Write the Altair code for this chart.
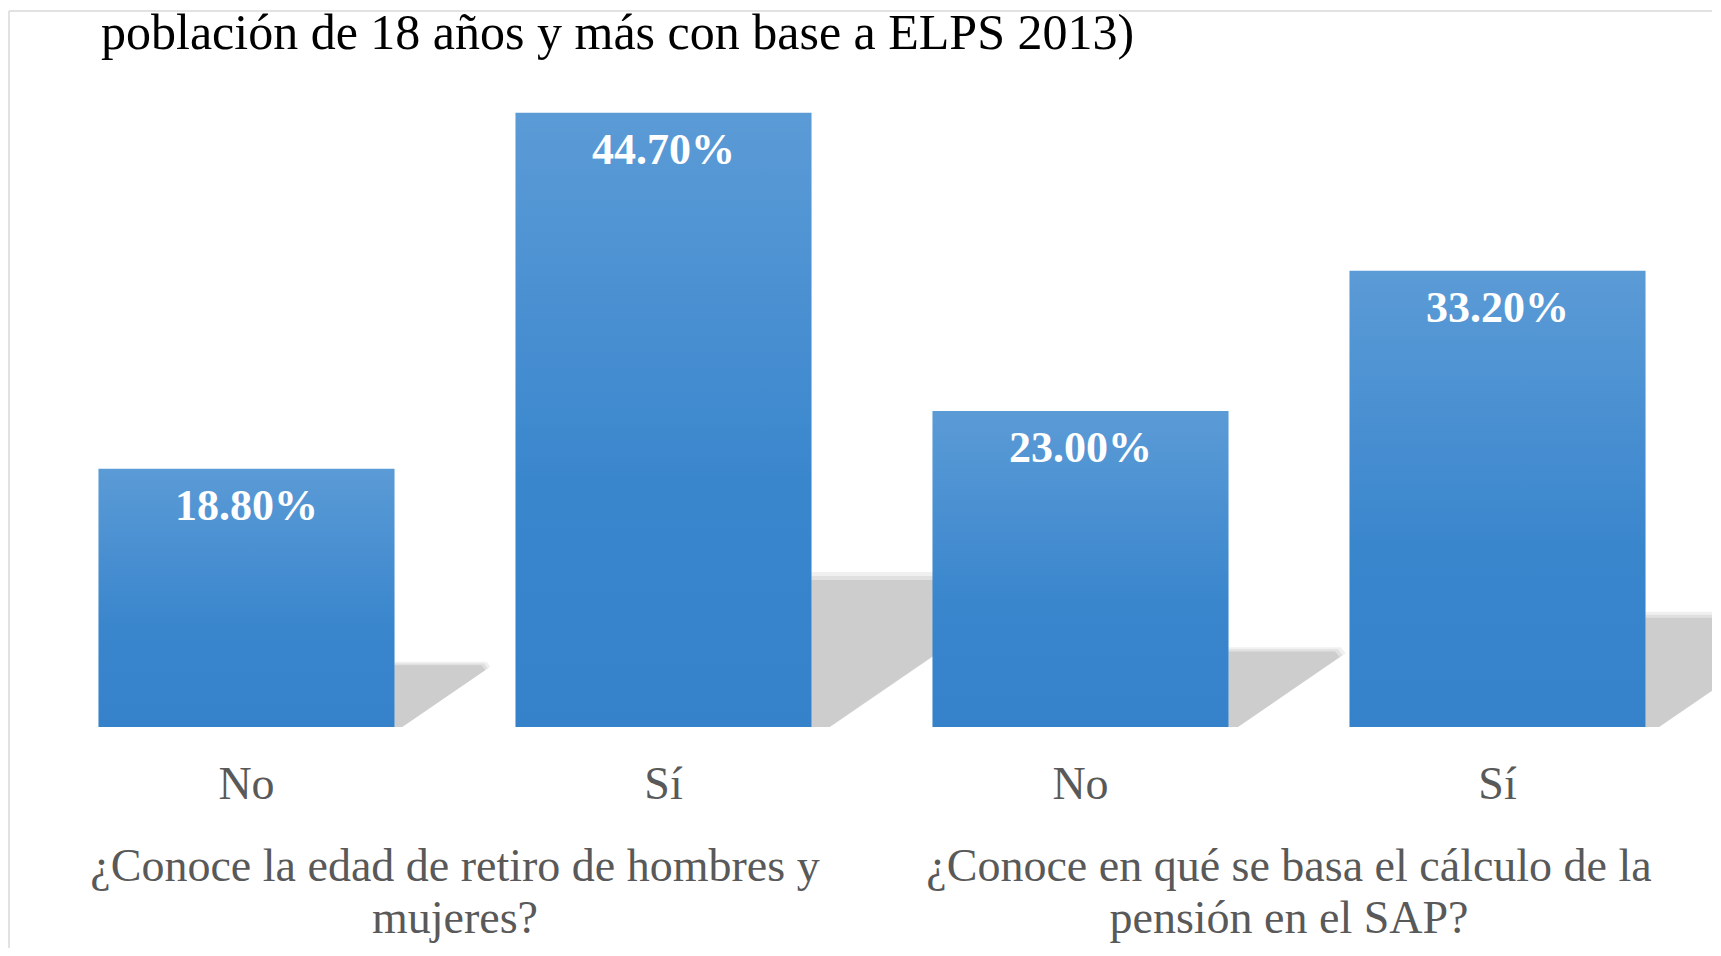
import altair as alt
import pandas as pd

# ---- data ----
keys = ["edad-No", "edad-Sí", "sap-No", "sap-Sí"]
answers = ["No", "Sí", "No", "Sí"]
values = [18.8, 44.7, 23.0, 33.2]
group_first_keys = ["edad-No", "sap-No"]
group_labels = [
    "¿Conoce la edad de retiro de hombres y\nmujeres?",
    "¿Conoce en qué se basa el cálculo de la\npensión en el SAP?",
]
title_text = "población de 18 años y más con base a ELPS 2013)"

df = pd.DataFrame({"key": keys, "answer": answers, "value": values})
gdf = pd.DataFrame({"key": group_first_keys, "label": group_labels})
tdf = pd.DataFrame({"t": [title_text]})
fdf = pd.DataFrame({"a": [0]})

W, H = 1668, 687
YMAX = 50
PX = H / YMAX
SERIF = "Liberation Serif"

x = alt.X(
    "key:N",
    sort=keys,
    scale=alt.Scale(paddingInner=0.29, paddingOuter=0.145),
    axis=alt.Axis(
        title=None,
        labelExpr="split(datum.value, '-')[1]",
        labelFontSize=46,
        labelFont=SERIF,
        labelColor="#595959",
        labelPadding=35,
        labelAngle=0,
        domain=False,
        ticks=False,
        grid=False,
    ),
)
yscale = alt.Scale(domain=[0, YMAX])
y = alt.Y("value:Q", scale=yscale, axis=None)

frame_v = alt.Chart(fdf).mark_rule(color="#d9d9d9", strokeWidth=1.5).encode(
    x=alt.value(-29), y=alt.value(-29), y2=alt.value(1000)
)
frame_h = alt.Chart(fdf).mark_rule(color="#d9d9d9", strokeWidth=1.5).encode(
    y=alt.value(-29), x=alt.value(-29), x2=alt.value(1800)
)

shadow_path = "M0,0 L0,-0.66 L0.93,-0.66 L0.97,-0.61 L0.08,0 Z"


def shadow_layer(scale_k, col):
    return (
        alt.Chart(df)
        .transform_calculate(sz=f"pow({scale_k}*{PX}*datum.value, 2)", zero="0")
        .mark_point(shape=shadow_path, filled=True, color=col, opacity=1, strokeWidth=0, xOffset=148)
        .encode(
            x=x,
            y=alt.Y("zero:Q", scale=yscale, axis=None),
            size=alt.Size("sz:Q", scale=None, legend=None),
        )
    )


shadow1 = shadow_layer(0.765, "#f0f0f0")
shadow2 = shadow_layer(0.745, "#e0e0e0")
shadow3 = shadow_layer(0.725, "#cdcdcd")

bars = alt.Chart(df).mark_bar(
    color=alt.Gradient(
        gradient="linear",
        stops=[
            alt.GradientStop(color="#5b9bd6", offset=0),
            alt.GradientStop(color="#3a86cd", offset=0.6),
            alt.GradientStop(color="#3582cb", offset=1),
        ],
        x1=0, x2=0, y1=0, y2=1,
    )
).encode(x=x, y=y)

labels = (
    alt.Chart(df)
    .transform_calculate(lbl="format(datum.value, '.2f') + '%'")
    .mark_text(color="white", fontWeight="bold", fontSize=44, font=SERIF, baseline="middle", dy=38)
    .encode(x=x, y=y, text="lbl:N")
)

groups = alt.Chart(gdf).mark_text(
    fontSize=46, font=SERIF, color="#595959", lineBreak="\n", lineHeight=52,
    baseline="alphabetic", align="center", dx=208.5,
).encode(x=x, y=alt.value(841), text="label:N")

title = alt.Chart(tdf).mark_text(
    align="left", baseline="alphabetic", fontSize=50, font=SERIF, color="black"
).encode(x=alt.value(63), y=alt.value(9), text="t:N")

chart = (
    alt.layer(frame_v, frame_h, shadow1, shadow2, shadow3, bars, labels, groups, title)
    .properties(
        width=W,
        height=H,
        autosize=alt.AutoSizeParams(type="none"),
        padding={"left": 30, "top": 32, "right": 6, "bottom": 221},
        background="white",
    )
    .configure_view(strokeWidth=0)
)

chart.save("out.html", embed_options={"renderer": "svg", "actions": False})
